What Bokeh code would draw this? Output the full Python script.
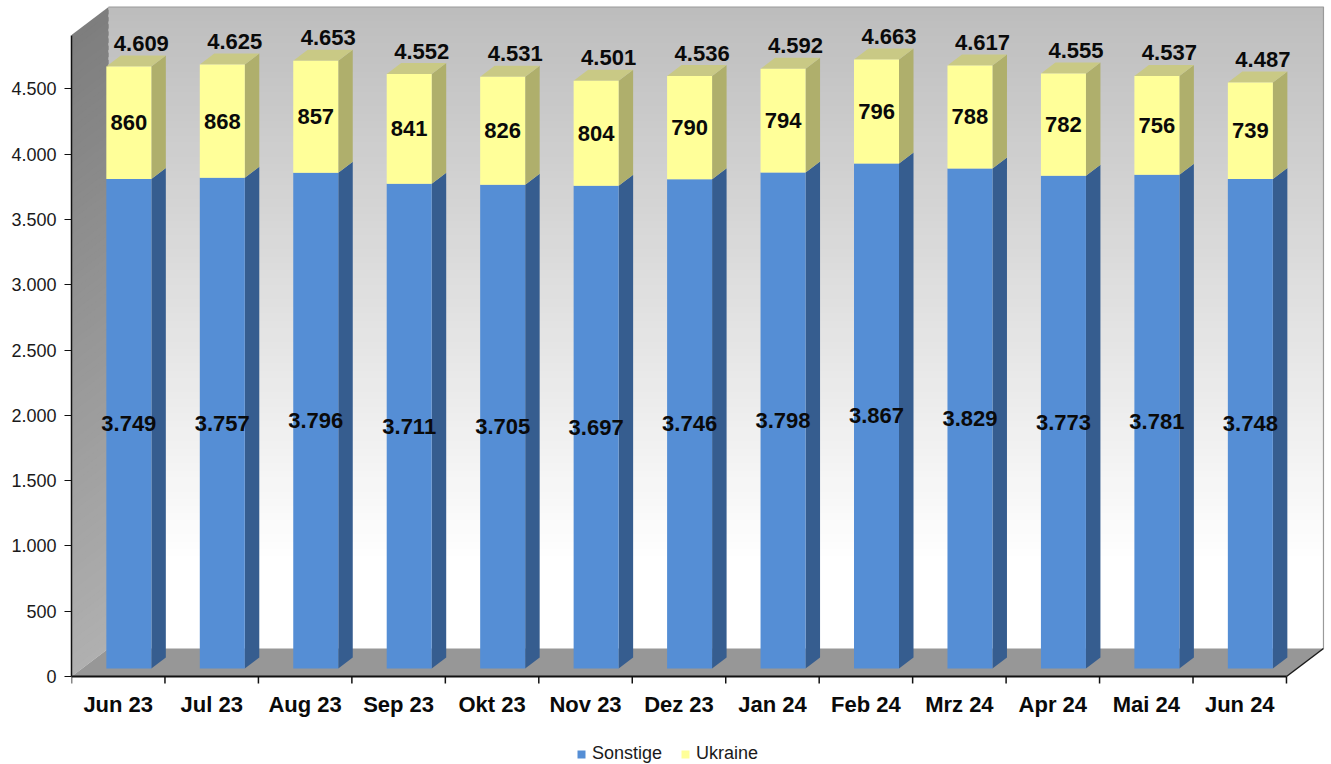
import numpy as np
from bokeh.plotting import figure
from bokeh.models import Range1d, FixedTicker, Legend, LegendItem
from bokeh.core.properties import value
from bokeh.embed import file_html
from bokeh.resources import INLINE

# ---------------- data ----------------
months = ["Jun 23", "Jul 23", "Aug 23", "Sep 23", "Okt 23", "Nov 23", "Dez 23",
          "Jan 24", "Feb 24", "Mrz 24", "Apr 24", "Mai 24", "Jun 24"]
sonstige = [3749, 3757, 3796, 3711, 3705, 3697, 3746, 3798, 3867, 3829, 3773, 3781, 3748]
ukraine = [860, 868, 857, 841, 826, 804, 790, 794, 796, 788, 782, 756, 739]
y_ticks = [0, 500, 1000, 1500, 2000, 2500, 3000, 3500, 4000, 4500]


def de(v):
    return f"{v:,}".replace(",", ".")


# ---------------- geometry (screen px -> data units) ----------------
FONT = "Liberation Sans"
CAT_PX = 93.46           # px per category
KY = 0.1306              # px per value unit
FRAME_LEFT = 71
FRAME_TOP = 5
FRAME_BOTTOM = 764
ZERO_PX = 676
FRAME_W = 1256
FRAME_H = FRAME_BOTTOM - FRAME_TOP
XE = FRAME_W / CAT_PX
YE = (ZERO_PX - FRAME_TOP) / KY
YS = -(FRAME_BOTTOM - ZERO_PX) / KY
N = len(months)
DX, DY = 37 / CAT_PX, 28 / KY          # full depth of floor / wall
BSX, BSY = 10.6 / CAT_PX, 8 / KY       # bar shift into depth
BW = 45 / CAT_PX                        # bar front width
BDX, BDY = 14.5 / CAT_PX, 11 / KY      # bar depth
WALL_TOP = (ZERO_PX - 6.5) / KY

p = figure(frame_width=FRAME_W, frame_height=FRAME_H,
           x_range=Range1d(0, XE), y_range=Range1d(YS, YE),
           x_axis_location=None,
           output_backend="svg", toolbar_location=None,
           min_border_left=FRAME_LEFT, min_border_right=2, min_border_top=FRAME_TOP,
           min_border_bottom=0,
           background_fill_color="white", border_fill_color="white")
p.outline_line_color = None
p.xgrid.visible = False
p.ygrid.visible = False


def px_of(y):
    return ZERO_PX - y * KY


def gray(c):
    c = int(round(c))
    return "#%02x%02x%02x" % (c, c, c)


# ---------------- back wall gradient ----------------
NS = 90
edges = np.linspace(DY, WALL_TOP, NS + 1)
step = edges[1] - edges[0]
wb, wt, wc = [], [], []
for i in range(NS):
    b, t = edges[i], min(edges[i + 1] + step * 0.6, WALL_TOP)
    py = px_of((edges[i] + edges[i + 1]) / 2)
    f = np.clip((560 - py) / (560 - 7), 0, 1)
    wb.append(b); wt.append(t); wc.append(gray(255 - f * (255 - 189)))
p.quad(left=DX, right=N + DX, bottom=wb, top=wt, fill_color=wc, line_color=None)
p.line([DX, N + DX, N + DX], [WALL_TOP, WALL_TOP, DY], line_color="#9a9a9a", line_width=1.2)

# ---------------- left wall gradient ----------------
lxs, lys, lc = [], [], []
for i in range(NS):
    b, t = edges[i], min(edges[i + 1] + step * 0.6, WALL_TOP)
    py = px_of((edges[i] + edges[i + 1]) / 2) + 14
    f = np.clip((py - 25) / (660 - 25), 0, 1)
    lxs.append([0, DX, DX, 0]); lys.append([b - DY, b, t, t - DY])
    lc.append(gray(126 + f * (176 - 126)))
p.patches(lxs, lys, fill_color=lc, line_color=None)

# ---------------- floor ----------------
p.patch([0, N, N + DX, DX], [0, 0, DY, DY], fill_color="#979797", line_color=None)
p.line([N, N + DX], [0, DY], line_color="#1a1a1a", line_width=1.5)

# ---------------- bars ----------------
idx = np.arange(N)
s = np.array(sonstige, dtype=float)
u = np.array(ukraine, dtype=float)
tot = s + u
left = idx + (1 - BW) / 2 + BSX
right = left + BW

b_side_x = [[r, r + BDX, r + BDX, r] for r in right]
b_side_y = [[BSY, BSY + BDY, BSY + v + BDY, BSY + v] for v in s]
y_side_y = [[BSY + a, BSY + a + BDY, BSY + a + b + BDY, BSY + a + b] for a, b in zip(s, u)]
top_x = [[l, r, r + BDX, l + BDX] for l, r in zip(left, right)]
top_y = [[BSY + t, BSY + t, BSY + t + BDY, BSY + t + BDY] for t in tot]

p.patches(b_side_x, b_side_y, fill_color="#365d8f", line_color=None)
p.patches(b_side_x, y_side_y, fill_color="#afaf6c", line_color=None)
p.patches(top_x, top_y, fill_color="#c9c985", line_color=None)
r_s = p.quad(left=left, right=right, bottom=BSY, top=BSY + s, fill_color="#558ed5", line_color=None)
r_u = p.quad(left=left, right=right, bottom=BSY + s, top=BSY + tot, fill_color="#ffff99", line_color=None)

# ---------------- value labels ----------------
lab_font = dict(text_font=value(FONT), text_font_style="bold", text_font_size="22px",
                text_align="center", text_baseline="middle", text_color="#0a0a0a")
cx = idx + 0.5 + BSX
p.text(x=cx, y=BSY + s / 2, text=[de(v) for v in sonstige], **lab_font)
p.text(x=cx, y=BSY + s + u / 2, text=[de(v) for v in ukraine], **lab_font)
p.text(x=cx + 12.5 / CAT_PX, y=BSY + tot, y_offset=-23, text=[de(int(v)) for v in tot], **lab_font)

# ---------------- category axis (drawn at value 0) ----------------
p.segment(x0=[0], y0=[0], x1=[N], y1=[0], line_color="#111111", line_width=2)
bounds = np.arange(N + 1)
p.segment(x0=bounds, y0=0, x1=bounds, y1=-7 / KY, line_color="#111111", line_width=1.5)
p.text(x=idx + 0.5, y=-(703.5 - ZERO_PX) / KY, text=months, **lab_font)

# ---------------- value axis ----------------
ya = p.yaxis[0]
ya.ticker = FixedTicker(ticks=y_ticks, minor_ticks=[])
ya.major_label_overrides = {t: de(t) for t in y_ticks}
ya.bounds = (0, WALL_TOP - DY)
ya.axis_line_color = "#111111"
ya.axis_line_width = 1.5
ya.major_tick_line_color = "#111111"
ya.major_tick_line_width = 1.2
ya.major_tick_out = 7
ya.major_tick_in = 0
ya.minor_tick_line_color = None
ya.major_label_standoff = 8
ya.major_label_text_font = FONT
ya.major_label_text_font_size = "18px"
ya.major_label_text_color = "#1a1a1a"

# ---------------- legend ----------------
legend = Legend(items=[LegendItem(label="Sonstige", renderers=[r_s]),
                       LegendItem(label="Ukraine", renderers=[r_u])],
                location=(576 - FRAME_LEFT, 0), orientation="horizontal",
                glyph_width=10, glyph_height=10, label_standoff=6, spacing=18,
                padding=0, margin=0, label_height=18,
                label_text_font=FONT, label_text_font_size="18px", label_text_color="#1a1a1a",
                border_line_color=None, background_fill_alpha=0)
p.add_layout(legend)

open("out.html", "w").write(file_html(p, INLINE))
